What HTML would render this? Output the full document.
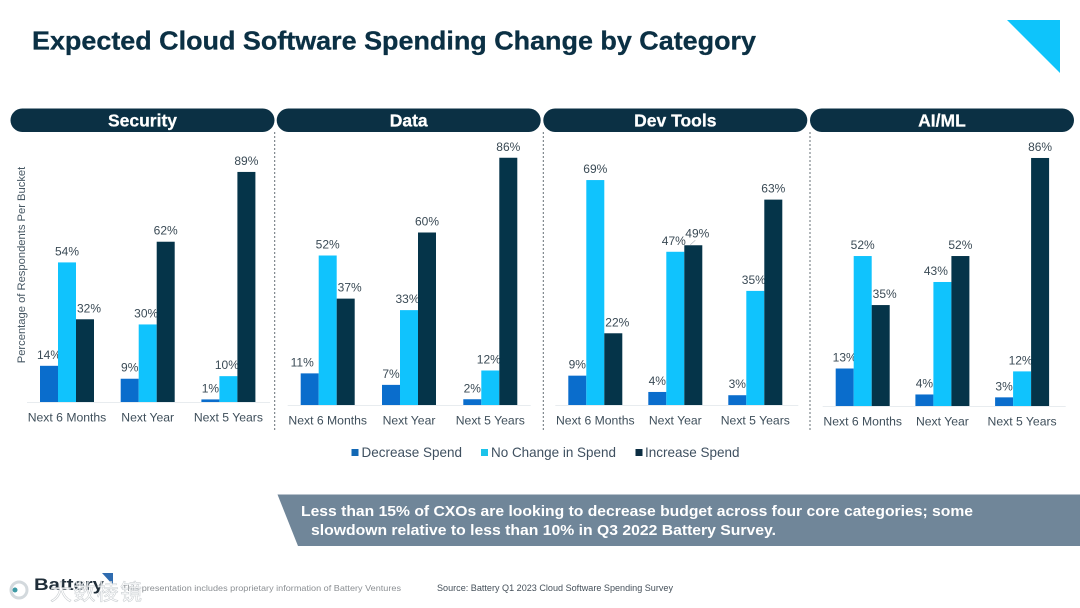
<!DOCTYPE html>
<html lang="en">
<head>
<meta charset="utf-8">
<title>Expected Cloud Software Spending Change by Category</title>
<style>
html,body{margin:0;padding:0;background:#fff;width:1080px;height:608px;overflow:hidden}
svg{display:block;font-family:"Liberation Sans","Noto Sans CJK SC",sans-serif;filter:blur(0.35px)}
</style>
</head>
<body>
<svg id="chart" xmlns="http://www.w3.org/2000/svg" width="1080" height="608" viewBox="0 0 1080 608">
  <rect x="0" y="0" width="1080" height="608" fill="#ffffff"/>
  <text x="32" y="49.5" font-size="26" font-weight="700" fill="#0b3044" stroke="#0b3044" stroke-width="0.3" textLength="724" lengthAdjust="spacingAndGlyphs">Expected Cloud Software Spending Change by Category</text>
  <polygon points="1007,20 1060,20 1060,73" fill="#0ec4fb"/>
  <g id="panels"></g>
  <text transform="translate(25,265) rotate(-90)" text-anchor="middle" font-size="11.2" fill="#465763">Percentage of Respondents Per Bucket</text>
  <g font-size="14" fill="#3f5060">
    <g>
      <rect x="351.5" y="449" width="7" height="7" fill="#1268b5"/>
      <text x="361.5" y="457" textLength="100.5" lengthAdjust="spacingAndGlyphs">Decrease Spend</text>
    </g>
    <g>
      <rect x="481" y="449" width="7" height="7" fill="#1cc3ea"/>
      <text x="491" y="457" textLength="125" lengthAdjust="spacingAndGlyphs">No Change in Spend</text>
    </g>
    <g>
      <rect x="635.5" y="449" width="7" height="7" fill="#0b2d42"/>
      <text x="645" y="457" textLength="94.5" lengthAdjust="spacingAndGlyphs">Increase Spend</text>
    </g>
  </g>
  <polygon points="277.5,494.5 1080,494.5 1080,546 298,546" fill="#708699"/>
  <g font-size="14.5" font-weight="700" fill="#ffffff">
    <text x="301" y="516" textLength="672" lengthAdjust="spacingAndGlyphs">Less than 15% of CXOs are looking to decrease budget across four core categories; some</text>
    <text x="311" y="535" textLength="465" lengthAdjust="spacingAndGlyphs">slowdown relative to less than 10% in Q3 2022 Battery Survey.</text>
  </g>
  <text x="122" y="591" font-size="8.6" fill="#8b8f93" textLength="279" lengthAdjust="spacingAndGlyphs">This presentation includes proprietary information of Battery Ventures</text>
  <text x="437" y="591" font-size="8.8" fill="#45505a" textLength="236" lengthAdjust="spacingAndGlyphs">Source: Battery Q1 2023 Cloud Software Spending Survey</text>
  <g>
    <polygon points="102,573 113,573 113,585" fill="#2f6cb0"/>
    <text x="34" y="590" font-size="17" font-weight="700" fill="#1f2d38" textLength="70" lengthAdjust="spacingAndGlyphs">Battery</text>
  </g>
  <g>
    <circle cx="19" cy="590" r="8" fill="none" stroke="#d3d9dd" stroke-width="3"/>
    <circle cx="15" cy="590" r="2.5" fill="#3d9aa5"/>
    <text x="50" y="600" font-size="22" fill="#ffffff" stroke="#c3c8cc" stroke-width="0.6" opacity="0.85" textLength="92" lengthAdjust="spacing">大数棱镜</text>
  </g>
</svg>
<script>
// ---- chart data ----
const panelNames = ['Security', 'Data', 'Dev Tools', 'AI/ML'];
const periods = ['Next 6 Months', 'Next Year', 'Next 5 Years'];
const decreaseSpend = [[14, 9, 1], [11, 7, 2], [9, 4, 3], [13, 4, 3]];
const noChangeSpend = [[54, 30, 10], [52, 33, 12], [69, 47, 35], [52, 43, 12]];
const increaseSpend = [[32, 62, 89], [37, 60, 86], [22, 49, 63], [35, 52, 86]];

// ---- layout (not data) ----
const seriesFill = ['#0a6dcc', '#10c3fd', '#053449'];
const plotLeft = [40, 300.7, 568.3, 835.7];
const plotBase = [402, 405, 405, 406];
const pxPerPercent = [2.585, 2.875, 3.26, 2.884];
const groupStep = [80.7, 81.3, 80, 79.7];
const pillLeft = [10.5, 276.7, 543.3, 810];
const dividerX = [274.7, 543.3, 810];
const BAR_W = 18;
const NS = 'http://www.w3.org/2000/svg';
const root = document.getElementById('panels');

// hand-placed label offsets from the source slide, keyed panel-group-series
const labelNudgeX = { '1-0-0': -7.5, '3-1-1': -6.5 };

function make(tag, attrs, parent, text) {
  const el = document.createElementNS(NS, tag);
  for (const k in attrs) el.setAttribute(k, attrs[k]);
  if (text !== undefined) el.textContent = text;
  parent.appendChild(el);
  return el;
}
function yScale(p, v) { return plotBase[p] - v * pxPerPercent[p]; }
function xScale(p, g, s) { return plotLeft[p] + g * groupStep[p] + s * BAR_W; }

dividerX.forEach(function (x) {
  const d = make('line', { x1: x, x2: x, y1: 132, y2: 431, stroke: '#666f76', 'stroke-width': 1, 'stroke-dasharray': '2 2' }, root);
  
  
});

panelNames.forEach(function (name, p) {
  const slug = name.toLowerCase().replace(/[^a-z]+/g, '-');
  const panel = make('g', {}, root);
  
  

  const pill = make('rect', { x: pillLeft[p], y: 108.5, width: 264, height: 23.5, rx: 11.75, fill: '#0b3044' }, panel);
  
  

  const head = make('text', { x: pillLeft[p] + 132, y: 126.5, 'text-anchor': 'middle', 'font-size': 17.5, 'font-weight': 700, fill: '#ffffff', stroke: '#ffffff', 'stroke-width': 0.25 }, panel, name);
  
  

  const axis = make('line', { x1: plotLeft[p] - 13, x2: plotLeft[p] + 230, y1: plotBase[p] + 0.5, y2: plotBase[p] + 0.5, stroke: '#e8ecef', 'stroke-width': 1 }, panel);
  
  

  periods.forEach(function (period, g) {
    const values = [decreaseSpend[p][g], noChangeSpend[p][g], increaseSpend[p][g]];
    values.forEach(function (v, s) {
      const x = xScale(p, g, s);
      const top = yScale(p, v);
      const bar = make('rect', { x: x, y: top, width: BAR_W, height: plotBase[p] - top, fill: seriesFill[s] }, panel);
      
      

      let dx = labelNudgeX[p + '-' + g + '-' + s] || 0, dy = 0;
      // the increase label slides right when the no-change bar beside it is taller
      if (s === 2 && v < values[1]) dx = 4;
      // the no-change label slides left when the increase bar beside it is taller
      if (s === 1 && values[2] > v && dx === 0) dx = -1.5;
      // near-equal neighbours: lift the label clear and draw a leader line
      const crowded = s === 2 && v >= values[1] && v - values[1] <= 3;
      if (crowded) { dx = 4; dy = -1; }
      const label = make('text', { x: x + BAR_W / 2 + dx, y: top - 7 + dy, 'text-anchor': 'middle', 'font-size': 12, fill: '#3a4a55' }, panel, v + '%');
      
      
      if (crowded) {
        const leader = make('line', { x1: x + BAR_W / 2 - 3, y1: top - 0.5, x2: x + BAR_W / 2 + 2, y2: top - 5, stroke: '#b5bcc2', 'stroke-width': 0.7 }, panel);
        
        
      }
    });
    const tick = make('text', { x: xScale(p, g, 1.5), y: plotBase[p] + 19.5, 'text-anchor': 'middle', 'font-size': 12.2, fill: '#3f4f5b' }, panel, period);
    
    
  });
});
</script>
</body>
</html>
